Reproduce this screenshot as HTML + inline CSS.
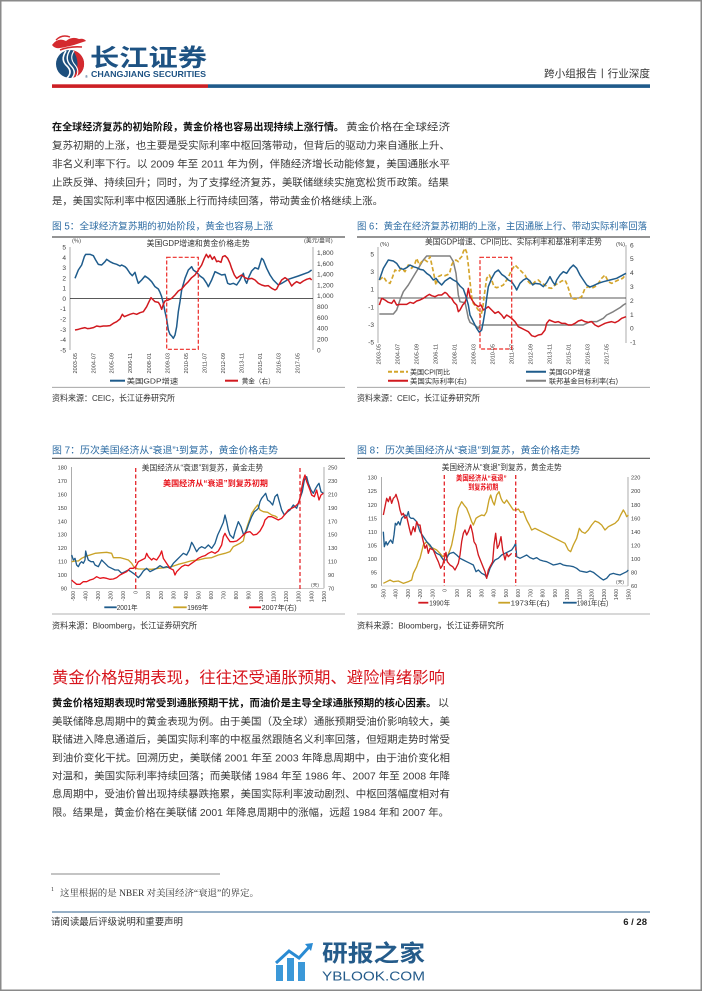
<!DOCTYPE html>
<html>
<head>
<meta charset="utf-8">
<style>
html,body{margin:0;padding:0;background:#fff;}
svg{display:block;}
text{font-family:"Liberation Sans","Noto Sans CJK SC",sans-serif;}
.ax{font-size:6.6px;fill:#404040;}
.axs{font-size:5.6px;fill:#404040;}
.cap{font-size:9.7px;fill:#2e6ca3;}
.body{font-size:10.4px;fill:#3a3a3a;}
.bold{font-size:10.4px;fill:#111;font-weight:bold;}
.ttl{font-size:7.8px;fill:#333;}
.lg{font-size:7px;fill:#333;}
.src{font-size:8.6px;fill:#333;}
</style>
</head>
<body>
<svg width="702" height="991" viewBox="0 0 702 991" xmlns="http://www.w3.org/2000/svg">
<rect x="0.75" y="0.75" width="700.5" height="989.5" fill="#fff" stroke="#8a8a8a" stroke-width="1.5"/>

<!-- LOGO -->
<g>
  <path d="M52,45 Q58,37 66,41 Q72,36 79,39 Q84,38 86,41 Q80,43 74,45 Q66,47 60,48 Q55,49 52,45 Z" fill="#d42a2f"/>
  <path d="M56,40 Q62,34 70,37" stroke="#d42a2f" stroke-width="1.4" fill="none"/>
  <path d="M60,50 Q70,46 82,47" stroke="#d42a2f" stroke-width="1.6" fill="none"/>
  <circle cx="70" cy="64" r="14" fill="#1d4f7d"/>
  <path d="M73,50.3 A14,14 0 0 1 73,77.7 Q82,64 73,50.3 Z" fill="#d42a2f"/>
  <path d="M66,51 Q60,60 67,66 Q73,72 67,78" stroke="#fff" stroke-width="1.6" fill="none"/>
  <path d="M70,50 Q64,59 71,66 Q77,72 72,78" stroke="#fff" stroke-width="1.4" fill="none"/>
  <path d="M74,51 Q69,58 75,65 Q80,71 76,77" stroke="#fff" stroke-width="1.1" fill="none"/>
  <text x="85" y="78" style="font-size:4px;fill:#1d4f7d;">®</text>
  <text x="90" y="66" textLength="117" lengthAdjust="spacingAndGlyphs" style="font-size:24px;font-weight:bold;fill:#1d5283;">长江证券</text>
  <text x="91" y="77" textLength="115" lengthAdjust="spacingAndGlyphs" style="font-size:8.4px;font-weight:bold;fill:#1d5283;">CHANGJIANG SECURITIES</text>
</g>
<text x="544" y="77" textLength="106" lengthAdjust="spacingAndGlyphs" style="font-size:10.5px;fill:#333;">跨小组报告丨行业深度</text>
<rect x="52" y="84.3" width="156" height="3.6" fill="#cc1f24"/>
<rect x="208" y="84.3" width="442" height="3.6" fill="#1f5a8a"/>

<!-- PARAGRAPH 1 -->
<text x="52" y="130.7" class="bold" textLength="292" lengthAdjust="spacingAndGlyphs">在全球经济复苏的初始阶段，黄金价格也容易出现持续上涨行情。</text>
<text x="346" y="130.7" class="body" textLength="104" lengthAdjust="spacingAndGlyphs">黄金价格在全球经济</text>
<text x="52" y="149.2" class="body" textLength="398" lengthAdjust="spacingAndGlyphs">复苏初期的上涨，也主要是受实际利率中枢回落带动，但背后的驱动力来自通胀上升、</text>
<text x="52" y="167.7" class="body" textLength="398" lengthAdjust="spacingAndGlyphs">非名义利率下行。以 2009 年至 2011 年为例，伴随经济增长动能修复，美国通胀水平</text>
<text x="52" y="186.2" class="body" textLength="397" lengthAdjust="spacingAndGlyphs">止跌反弹、持续回升；同时，为了支撑经济复苏，美联储继续实施宽松货币政策。结果</text>
<text x="52" y="204.7" class="body" textLength="331" lengthAdjust="spacingAndGlyphs">是，美国实际利率中枢因通胀上行而持续回落，带动黄金价格继续上涨。</text>

<!-- ================= CHART 5 ================= -->
<text x="52" y="229.6" class="cap" textLength="221" lengthAdjust="spacingAndGlyphs">图 5：全球经济复苏期的初始阶段，黄金也容易上涨</text>
<line x1="52" y1="237" x2="345" y2="237" stroke="#555" stroke-width="1.2"/>
<text x="146.7" y="246" class="ttl" textLength="103" lengthAdjust="spacingAndGlyphs">美国GDP增速和黄金价格走势</text>
<text x="72" y="242.5" style="font-size:5.8px;fill:#404040;">(%)</text>
<text x="304" y="242.5" style="font-size:5.8px;fill:#404040;">(美元/盎司)</text>
<line x1="70" y1="247" x2="70" y2="350" stroke="#888" stroke-width="0.7"/>
<line x1="313" y1="247" x2="313" y2="350" stroke="#888" stroke-width="0.7"/>
<line x1="70" y1="298.6" x2="313" y2="298.6" stroke="#222" stroke-width="0.8"/>
<g class="ax" text-anchor="end">
<text x="66" y="249.6">5</text><text x="66" y="259.9">4</text><text x="66" y="270.1">3</text><text x="66" y="280.4">2</text><text x="66" y="290.7">1</text><text x="66" y="301">0</text><text x="66" y="311.2">-1</text><text x="66" y="321.5">-2</text><text x="66" y="331.8">-3</text><text x="66" y="342">-4</text><text x="66" y="352.3">-5</text>
</g>
<g class="ax">
<text x="317" y="255">1,800</text><text x="317" y="265.8">1,600</text><text x="317" y="276.6">1,400</text><text x="317" y="287.4">1,200</text><text x="317" y="298.2">1,000</text><text x="317" y="309.1">800</text><text x="317" y="319.9">600</text><text x="317" y="330.7">400</text><text x="317" y="341.5">200</text><text x="317" y="352.3">0</text>
</g>
<g class="axs" text-anchor="end">
<text transform="translate(77,353) rotate(-90)">2003-05</text>
<text transform="translate(95.3,353) rotate(-90)">2004-07</text>
<text transform="translate(113.7,353) rotate(-90)">2005-09</text>
<text transform="translate(132,353) rotate(-90)">2006-11</text>
<text transform="translate(151,353) rotate(-90)">2008-01</text>
<text transform="translate(169.3,353) rotate(-90)">2009-03</text>
<text transform="translate(188,353) rotate(-90)">2010-05</text>
<text transform="translate(206.3,353) rotate(-90)">2011-07</text>
<text transform="translate(225,353) rotate(-90)">2012-09</text>
<text transform="translate(243.7,353) rotate(-90)">2013-11</text>
<text transform="translate(262,353) rotate(-90)">2015-01</text>
<text transform="translate(280.3,353) rotate(-90)">2016-03</text>
<text transform="translate(299.3,353) rotate(-90)">2017-05</text>
</g>
<g transform="translate(45,215) scale(0.33333)" fill="none" stroke-linejoin="round">
<polyline stroke="#1f5c8c" stroke-width="4.5" points="90,190 100,165 110,150 118,125 122,118 135,118 145,122 152,135 160,148 170,150 180,140 185,133 195,140 205,145 215,148 225,153 230,150 240,155 245,160 255,175 262,182 270,172 275,190 280,205 290,195 300,183 310,190 320,200 330,215 340,222 345,232 350,245 355,265 360,290 365,312 370,345 375,358 380,363 385,370 390,360 395,335 400,290 405,260 410,225 420,190 430,165 440,155 445,165 455,172 465,183 475,190 485,205 490,215 500,195 510,170 520,175 530,180 540,178 548,205 555,208 565,205 575,210 585,195 595,175 600,195 605,205 612,185 620,168 630,158 640,162 650,130 655,135 665,160 675,180 685,195 700,210 710,205 730,193 760,183 790,172 800,165"/>
<polyline stroke="#d1191f" stroke-width="4.5" points="90,345 100,343 110,340 120,338 128,341 135,340 145,338 155,333 165,335 175,333 185,333 195,332 205,325 215,320 225,312 232,298 238,305 245,302 255,298 265,295 275,298 285,293 295,290 305,275 312,260 318,248 325,255 330,260 340,262 345,270 350,283 355,268 360,258 370,255 380,250 390,240 400,228 410,222 420,210 430,200 440,188 450,180 460,165 470,150 478,130 484,118 490,128 495,120 502,133 508,125 515,140 520,138 528,142 533,125 540,122 548,130 555,145 560,160 568,180 575,190 582,185 590,180 600,188 610,192 620,190 630,195 640,205 650,210 660,213 670,212 680,220 690,225 695,222 700,212 710,195 720,188 730,195 740,213 748,205 755,200 765,205 775,198 785,193 795,190 800,195"/>
</g>
<rect x="166.7" y="257.3" width="31.6" height="92" fill="none" stroke="#ec2a26" stroke-width="1.2" stroke-dasharray="4 2"/>
<line x1="110" y1="380.7" x2="125" y2="380.7" stroke="#1f5c8c" stroke-width="2"/>
<text x="126.7" y="383.4" class="lg" textLength="51.6" lengthAdjust="spacingAndGlyphs">美国GDP增速</text>
<line x1="225" y1="380.7" x2="238" y2="380.7" stroke="#d1191f" stroke-width="2"/>
<text x="241.7" y="383.4" class="lg" textLength="33" lengthAdjust="spacingAndGlyphs">黄金（右）</text>
<line x1="52" y1="387.3" x2="345" y2="387.3" stroke="#999" stroke-width="0.8"/>
<text x="52" y="401.2" class="src" textLength="123" lengthAdjust="spacingAndGlyphs">资料来源：CEIC，长江证券研究所</text>

<!-- ================= CHART 6 ================= -->
<text x="357" y="229.6" class="cap" textLength="290" lengthAdjust="spacingAndGlyphs">图 6：黄金在经济复苏初期的上涨，主因通胀上行、带动实际利率回落</text>
<line x1="357" y1="237" x2="650" y2="237" stroke="#555" stroke-width="1.2"/>
<text x="425" y="244.5" class="ttl" textLength="177" lengthAdjust="spacingAndGlyphs">美国GDP增速、CPI同比、实际利率和基准利率走势</text>
<text x="380" y="246" style="font-size:5.8px;fill:#404040;">(%)</text>
<text x="616" y="246" style="font-size:5.8px;fill:#404040;">(%)</text>
<line x1="378" y1="247" x2="378" y2="343" stroke="#888" stroke-width="0.7"/>
<line x1="626" y1="245" x2="626" y2="343" stroke="#888" stroke-width="0.7"/>
<line x1="378" y1="298" x2="626" y2="298" stroke="#222" stroke-width="0.8"/>
<g class="ax" text-anchor="end">
<text x="374" y="256.3">5</text><text x="374" y="274">3</text><text x="374" y="291.6">1</text><text x="374" y="309.3">-1</text><text x="374" y="326.9">-3</text><text x="374" y="344.6">-5</text>
</g>
<g class="ax">
<text x="630" y="247.3">6</text><text x="630" y="261.2">5</text><text x="630" y="275.1">4</text><text x="630" y="289">3</text><text x="630" y="302.9">2</text><text x="630" y="316.8">1</text><text x="630" y="330.7">0</text><text x="630" y="344.6">-1</text>
</g>
<g class="axs" text-anchor="end">
<text transform="translate(380.5,344) rotate(-90)">2003-05</text>
<text transform="translate(399.5,344) rotate(-90)">2004-07</text>
<text transform="translate(418.5,344) rotate(-90)">2005-09</text>
<text transform="translate(437.5,344) rotate(-90)">2006-11</text>
<text transform="translate(456.5,344) rotate(-90)">2008-01</text>
<text transform="translate(475.5,344) rotate(-90)">2009-03</text>
<text transform="translate(494.5,344) rotate(-90)">2010-05</text>
<text transform="translate(513.5,344) rotate(-90)">2011-07</text>
<text transform="translate(532.5,344) rotate(-90)">2012-09</text>
<text transform="translate(551.5,344) rotate(-90)">2013-11</text>
<text transform="translate(570.5,344) rotate(-90)">2015-01</text>
<text transform="translate(589.5,344) rotate(-90)">2016-03</text>
<text transform="translate(608.5,344) rotate(-90)">2017-05</text>
</g>
<g transform="translate(350,215) scale(0.33333)" fill="none" stroke-linejoin="round">
<polyline stroke="#808080" stroke-width="4.5" points="88,297 130,297 140,285 150,255 160,230 175,210 190,185 205,160 220,135 230,123 300,123 310,140 318,175 325,240 330,260 338,262 345,262 350,285 355,310 360,322 370,328 380,335 385,340 390,330 400,330 500,330 700,330 720,320 740,320 760,310 770,300 790,290 810,278 820,270 828,265"/>
<polyline stroke="#d4a52c" stroke-width="5" stroke-dasharray="13 7" points="88,195 100,185 110,200 120,205 128,185 135,165 145,170 155,160 165,170 175,150 185,160 195,145 200,130 208,150 215,140 225,135 232,140 240,125 250,170 258,210 265,185 275,180 285,182 295,178 300,170 305,150 310,140 318,135 325,140 330,130 335,125 340,110 345,100 350,112 355,150 360,200 365,245 370,265 378,275 385,285 392,305 398,280 403,240 410,190 418,180 425,195 432,215 440,218 450,215 460,210 470,195 478,180 485,165 495,150 505,160 515,170 525,180 535,200 545,210 555,200 565,195 575,205 585,210 595,218 605,220 615,210 625,205 635,198 645,195 652,210 660,235 665,250 675,252 685,250 695,245 705,220 715,215 725,220 735,215 745,205 755,190 765,180 775,200 785,205 795,200 805,195 818,190 828,178"/>
<polyline stroke="#d1191f" stroke-width="4.5" points="88,270 95,250 105,255 115,262 125,265 132,255 140,270 150,268 160,268 170,268 180,262 190,265 200,258 210,255 220,250 230,243 238,238 245,242 255,245 265,240 275,240 285,232 290,235 298,245 305,250 312,262 320,270 325,290 330,285 338,270 345,262 350,248 355,220 360,245 368,258 375,268 385,275 393,270 400,285 408,280 415,275 425,285 435,295 445,290 455,300 462,310 470,300 478,305 485,310 495,320 505,335 515,340 525,345 535,350 545,362 555,365 565,360 575,358 585,345 590,325 598,315 605,318 615,322 625,320 635,325 645,325 655,330 665,330 675,325 685,318 695,315 705,320 715,322 725,320 735,330 745,335 755,330 765,325 775,322 785,320 795,323 805,318 815,310 828,305"/>
<polyline stroke="#1f5c8c" stroke-width="4.5" points="88,195 100,160 115,135 130,138 140,145 150,160 160,163 170,158 180,150 190,155 200,158 210,163 220,165 230,175 240,182 250,195 258,190 265,200 275,210 285,198 300,188 310,195 320,200 330,213 340,222 348,245 355,270 360,300 370,320 380,340 388,352 395,345 400,320 405,290 410,250 415,215 425,190 435,172 445,165 455,178 465,185 475,195 485,200 495,215 500,225 510,205 520,195 530,190 540,198 548,210 555,205 570,207 580,215 590,203 600,185 608,200 615,210 620,195 630,180 640,170 650,175 660,160 670,150 680,160 690,180 700,195 710,210 720,216 730,212 745,205 760,200 780,195 800,190 828,175"/>
</g>
<rect x="480" y="257.3" width="31.7" height="91.7" fill="none" stroke="#ec2a26" stroke-width="1.2" stroke-dasharray="4 2"/>
<line x1="388" y1="371.7" x2="408" y2="371.7" stroke="#d4a52c" stroke-width="2" stroke-dasharray="4 2"/>
<text x="410" y="374.3" class="lg" textLength="40" lengthAdjust="spacingAndGlyphs">美国CPI同比</text>
<line x1="526" y1="371.7" x2="546" y2="371.7" stroke="#1f5c8c" stroke-width="2"/>
<text x="549" y="374.3" class="lg" textLength="41.5" lengthAdjust="spacingAndGlyphs">美国GDP增速</text>
<line x1="388" y1="380.7" x2="408" y2="380.7" stroke="#d1191f" stroke-width="2"/>
<text x="410" y="383.3" class="lg" textLength="56.7" lengthAdjust="spacingAndGlyphs">美国实际利率(右)</text>
<line x1="526" y1="380.7" x2="546" y2="380.7" stroke="#808080" stroke-width="2"/>
<text x="549" y="383.3" class="lg" textLength="69" lengthAdjust="spacingAndGlyphs">联邦基金目标利率(右)</text>
<line x1="357" y1="387.3" x2="650" y2="387.3" stroke="#999" stroke-width="0.8"/>
<text x="357" y="401.2" class="src" textLength="123" lengthAdjust="spacingAndGlyphs">资料来源：CEIC，长江证券研究所</text>

<!-- ================= CHART 7 ================= -->
<text x="52" y="453.5" class="cap" textLength="226" lengthAdjust="spacingAndGlyphs">图 7：历次美国经济从“衰退”¹到复苏，黄金价格走势</text>
<line x1="52" y1="458.3" x2="345" y2="458.3" stroke="#555" stroke-width="1.2"/>
<text x="141.7" y="470.5" class="ttl" textLength="121.6" lengthAdjust="spacingAndGlyphs">美国经济从“衰退”到复苏，黄金走势</text>
<line x1="71.5" y1="467" x2="71.5" y2="588.3" stroke="#888" stroke-width="0.7"/>
<line x1="324" y1="467" x2="324" y2="588.3" stroke="#888" stroke-width="0.7"/>
<line x1="71.5" y1="588.3" x2="324" y2="588.3" stroke="#aaa" stroke-width="0.6"/>
<g class="axs" text-anchor="end">
<text x="67" y="469.5">180</text><text x="67" y="482.9">170</text><text x="67" y="496.4">160</text><text x="67" y="509.8">150</text><text x="67" y="523.3">140</text><text x="67" y="536.7">130</text><text x="67" y="550.1">120</text><text x="67" y="563.6">110</text><text x="67" y="577">100</text><text x="67" y="590.5">90</text>
</g>
<g class="axs">
<text x="328" y="469.5">250</text><text x="328" y="482.9">230</text><text x="328" y="496.4">210</text><text x="328" y="509.8">190</text><text x="328" y="523.3">170</text><text x="328" y="536.7">150</text><text x="328" y="550.1">130</text><text x="328" y="563.6">110</text><text x="328" y="577">90</text><text x="328" y="590.5">70</text>
</g>
<g style="font-size:5px;fill:#404040;" text-anchor="end">
<text transform="translate(75,591) rotate(-90)">-500</text>
<text transform="translate(87.5,591) rotate(-90)">-400</text>
<text transform="translate(100.1,591) rotate(-90)">-300</text>
<text transform="translate(112.6,591) rotate(-90)">-200</text>
<text transform="translate(125.2,591) rotate(-90)">-100</text>
<text transform="translate(137.7,591) rotate(-90)">0</text>
<text transform="translate(150.2,591) rotate(-90)">100</text>
<text transform="translate(162.8,591) rotate(-90)">200</text>
<text transform="translate(175.3,591) rotate(-90)">300</text>
<text transform="translate(187.9,591) rotate(-90)">400</text>
<text transform="translate(200.4,591) rotate(-90)">500</text>
<text transform="translate(212.9,591) rotate(-90)">600</text>
<text transform="translate(225.5,591) rotate(-90)">700</text>
<text transform="translate(238,591) rotate(-90)">800</text>
<text transform="translate(250.6,591) rotate(-90)">900</text>
<text transform="translate(263.1,591) rotate(-90)">1000</text>
<text transform="translate(275.6,591) rotate(-90)">1100</text>
<text transform="translate(288.2,591) rotate(-90)">1200</text>
<text transform="translate(300.7,591) rotate(-90)">1300</text>
<text transform="translate(313.3,591) rotate(-90)">1400</text>
<text transform="translate(325.8,591) rotate(-90)">1500</text>
</g>
<g transform="translate(45,435) scale(0.33333)" fill="none" stroke-linejoin="round">
<polyline stroke="#c9a227" stroke-width="4" points="80,380 90,378 100,378 110,370 120,365 135,360 150,355 170,353 185,352 200,355 205,368 215,368 225,368 240,372 250,375 260,385 268,398 280,402 300,402 320,403 340,400 360,398 380,395 400,388 420,383 440,377 460,375 480,370 500,368 520,360 540,355 555,350 565,335 575,330 585,325 595,318 600,295 608,270 615,250 620,235 630,220 638,210 645,225 655,230 668,232 680,240 690,243 698,248"/>
<polyline stroke="#1f5c8c" stroke-width="4" points="80,360 85,375 90,370 95,390 100,395 105,385 110,380 115,385 120,375 122,348 125,360 130,375 138,380 145,380 150,390 160,395 170,375 175,380 180,385 190,395 200,400 210,405 220,405 230,415 240,410 250,405 258,410 265,415 272,420 280,428 287,420 295,408 305,400 315,410 325,405 335,400 345,392 355,398 365,395 375,400 385,385 395,375 405,365 415,355 425,360 433,345 440,322 445,330 455,350 462,340 470,335 480,340 490,330 500,340 510,325 518,300 525,285 535,262 540,240 545,260 550,285 555,300 565,310 570,290 580,260 588,275 596,300 605,285 612,265 620,245 628,230 635,225 640,220 645,200 650,190 658,180 662,175 668,195 675,200 683,210 690,185 697,178 703,200 710,225 718,240 728,230 735,225 745,210 755,220 765,190 772,170 778,135 785,125 790,145 798,165 805,175 812,160 818,150 822,145 828,170 835,175"/>
<polyline stroke="#e3141c" stroke-width="4" points="80,435 85,440 95,448 105,448 115,440 125,440 135,435 145,432 155,425 165,430 175,428 185,430 195,433 205,432 215,428 225,420 235,415 245,410 255,400 265,400 272,395 280,380 290,375 300,370 305,355 310,365 320,375 325,370 335,375 345,360 350,348 355,370 365,385 375,400 385,405 390,420 395,410 400,405 410,395 420,390 430,392 440,385 450,378 460,370 470,365 480,362 490,355 500,350 510,355 520,348 530,330 535,305 540,295 545,305 555,320 565,320 575,318 585,310 595,300 605,292 615,290 625,300 635,298 645,288 655,270 660,255 670,245 680,245 690,250 700,255 710,250 720,238 730,225 740,220 750,215 760,205 765,190 770,160 775,135 780,120 785,140 795,165 800,180 808,185 815,165 822,195 828,180 835,175"/>
</g>
<line x1="135.7" y1="468" x2="135.7" y2="590" stroke="#e4262b" stroke-width="1.3" stroke-dasharray="4 2.5"/>
<line x1="300" y1="468" x2="300" y2="590" stroke="#e4262b" stroke-width="1.3" stroke-dasharray="4 2.5"/>
<text x="163" y="486" textLength="105" lengthAdjust="spacingAndGlyphs" style="font-size:8px;font-weight:bold;fill:#e8141c;">美国经济从“衰退”到复苏初期</text>
<text x="311" y="586.5" style="font-size:4.8px;fill:#404040;">(天)</text>
<line x1="104.3" y1="607.3" x2="116.7" y2="607.3" stroke="#1f5c8c" stroke-width="1.8"/>
<text x="116.7" y="610" class="lg" textLength="21" lengthAdjust="spacingAndGlyphs">2001年</text>
<line x1="173.3" y1="607.3" x2="186.7" y2="607.3" stroke="#c9a227" stroke-width="1.8"/>
<text x="187.3" y="610" class="lg" textLength="21" lengthAdjust="spacingAndGlyphs">1969年</text>
<line x1="249" y1="607.3" x2="261" y2="607.3" stroke="#e3141c" stroke-width="1.8"/>
<text x="261.7" y="610" class="lg" textLength="35" lengthAdjust="spacingAndGlyphs">2007年(右)</text>
<line x1="52" y1="614" x2="345" y2="614" stroke="#999" stroke-width="0.8"/>
<text x="52" y="628.5" class="src" textLength="145" lengthAdjust="spacingAndGlyphs">资料来源：Bloomberg，长江证券研究所</text>

<!-- ================= CHART 8 ================= -->
<text x="357" y="453.5" class="cap" textLength="223" lengthAdjust="spacingAndGlyphs">图 8：历次美国经济从“衰退”到复苏，黄金价格走势</text>
<line x1="357" y1="458.3" x2="650" y2="458.3" stroke="#555" stroke-width="1.2"/>
<text x="441.7" y="469.8" class="ttl" textLength="120" lengthAdjust="spacingAndGlyphs">美国经济从“衰退”到复苏，黄金走势</text>
<line x1="381.5" y1="477" x2="381.5" y2="586" stroke="#888" stroke-width="0.7"/>
<line x1="628" y1="477" x2="628" y2="586" stroke="#888" stroke-width="0.7"/>
<line x1="381.5" y1="586" x2="628" y2="586" stroke="#aaa" stroke-width="0.6"/>
<g class="axs" text-anchor="end">
<text x="377" y="479.7">130</text><text x="377" y="493.2">125</text><text x="377" y="506.8">120</text><text x="377" y="520.3">115</text><text x="377" y="533.9">110</text><text x="377" y="547.4">105</text><text x="377" y="560.9">100</text><text x="377" y="574.5">95</text><text x="377" y="588">90</text>
</g>
<g class="axs">
<text x="631" y="479.7">220</text><text x="631" y="493.2">200</text><text x="631" y="506.8">180</text><text x="631" y="520.3">160</text><text x="631" y="533.9">140</text><text x="631" y="547.4">120</text><text x="631" y="560.9">100</text><text x="631" y="574.5">80</text><text x="631" y="588">60</text>
</g>
<g style="font-size:5px;fill:#404040;" text-anchor="end">
<text transform="translate(385.3,589) rotate(-90)">-500</text>
<text transform="translate(397.6,589) rotate(-90)">-400</text>
<text transform="translate(409.8,589) rotate(-90)">-300</text>
<text transform="translate(422.1,589) rotate(-90)">-200</text>
<text transform="translate(434.3,589) rotate(-90)">-100</text>
<text transform="translate(446.6,589) rotate(-90)">0</text>
<text transform="translate(458.8,589) rotate(-90)">100</text>
<text transform="translate(471.1,589) rotate(-90)">200</text>
<text transform="translate(483.3,589) rotate(-90)">300</text>
<text transform="translate(495.6,589) rotate(-90)">400</text>
<text transform="translate(507.8,589) rotate(-90)">500</text>
<text transform="translate(520.1,589) rotate(-90)">600</text>
<text transform="translate(532.3,589) rotate(-90)">700</text>
<text transform="translate(544.6,589) rotate(-90)">800</text>
<text transform="translate(556.8,589) rotate(-90)">900</text>
<text transform="translate(569.1,589) rotate(-90)">1000</text>
<text transform="translate(581.3,589) rotate(-90)">1100</text>
<text transform="translate(593.6,589) rotate(-90)">1200</text>
<text transform="translate(605.8,589) rotate(-90)">1300</text>
<text transform="translate(618.1,589) rotate(-90)">1400</text>
<text transform="translate(630.3,589) rotate(-90)">1500</text>
</g>
<g transform="translate(350,435) scale(0.33333)" fill="none" stroke-linejoin="round">
<polyline stroke="#c9a227" stroke-width="4" points="100,445 110,440 120,435 130,440 145,438 160,445 175,440 185,435 190,415 200,395 205,380 210,370 215,350 220,330 230,320 240,335 250,340 260,345 270,355 278,365 285,360 292,365 300,345 305,330 310,305 315,280 320,245 325,220 330,210 335,200 342,210 350,220 358,240 365,260 370,270 378,250 385,245 395,240 403,242 410,230 417,195 422,180 428,200 433,210 440,180 447,170 453,190 458,200 463,205 470,195 480,210 490,225 498,225 505,222 512,232 520,230 530,255 538,270 545,285 555,280 565,285 575,290 585,295 595,300 605,305 615,310 625,315 635,320 645,325 655,345 662,350 670,330 680,310 688,280 695,290 705,295 715,285 725,270 735,258 745,262 755,270 765,285 775,275 785,270 795,265 805,255 812,240 820,225 826,235 830,245 835,240"/>
<polyline stroke="#1f5c8c" stroke-width="4" points="100,290 103,335 108,320 112,330 118,320 122,315 128,325 132,300 136,265 140,270 145,260 150,270 155,250 160,245 165,240 170,245 175,230 178,245 183,250 190,250 195,255 200,260 210,290 220,305 230,320 240,330 250,345 260,355 270,360 280,375 288,375 295,360 300,355 310,352 320,360 330,370 340,375 350,380 360,385 370,390 378,410 385,405 395,415 405,420 410,428 415,415 420,400 428,385 435,375 445,370 455,360 465,355 475,350 485,345 492,335 497,325 500,365 510,370 520,365 530,360 540,368 550,372 560,368 570,375 580,378 590,380 600,385 610,390 620,388 630,385 640,390 650,392 660,393 670,395 680,400 690,408 700,410 710,412 720,408 730,412 740,420 750,428 760,435 770,430 780,418 790,415 800,418 810,420 820,415 830,410 835,405"/>
<polyline stroke="#d1191f" stroke-width="4" points="100,240 105,215 110,190 115,200 120,185 125,205 130,190 135,185 138,178 145,200 150,225 155,240 160,235 165,250 170,245 178,280 183,300 190,275 195,290 200,260 205,270 210,270 215,300 220,320 225,340 230,330 235,355 240,340 250,345 258,365 265,380 272,400 278,390 283,370 288,352 292,380 300,390 308,395 315,405 320,395 325,385 330,360 335,320 340,295 345,285 350,300 355,290 362,270 368,295 372,320 378,330 385,360 395,385 405,410 410,430 415,405 420,395 428,380 432,330 437,295 442,340 447,330 453,305 458,345 465,375 470,355 475,365 480,360 485,355"/>
</g>
<line x1="444.3" y1="475" x2="444.3" y2="586" stroke="#e4262b" stroke-width="1.3" stroke-dasharray="4 2.5"/>
<line x1="515.7" y1="475" x2="515.7" y2="586" stroke="#e4262b" stroke-width="1.3" stroke-dasharray="4 2.5"/>
<text x="456" y="480.5" textLength="50.7" lengthAdjust="spacingAndGlyphs" style="font-size:7.2px;font-weight:bold;fill:#e8141c;">美国经济从“衰退”</text>
<text x="468.3" y="489.5" textLength="30" lengthAdjust="spacingAndGlyphs" style="font-size:7.2px;font-weight:bold;fill:#e8141c;">到复苏初期</text>
<text x="616" y="583.5" style="font-size:4.8px;fill:#404040;">(天)</text>
<line x1="418.3" y1="602.7" x2="428.3" y2="602.7" stroke="#d1191f" stroke-width="1.8"/>
<text x="429.3" y="605.4" class="lg" textLength="20.7" lengthAdjust="spacingAndGlyphs">1990年</text>
<line x1="498.3" y1="602.7" x2="510" y2="602.7" stroke="#c9a227" stroke-width="1.8"/>
<text x="510.7" y="605.4" class="lg" textLength="39" lengthAdjust="spacingAndGlyphs">1973年(右)</text>
<line x1="563" y1="602.7" x2="576.7" y2="602.7" stroke="#1f5c8c" stroke-width="1.8"/>
<text x="576.7" y="605.4" class="lg" textLength="31.6" lengthAdjust="spacingAndGlyphs">1981年(右)</text>
<line x1="357" y1="614" x2="650" y2="614" stroke="#999" stroke-width="0.8"/>
<text x="357" y="628.5" class="src" textLength="147" lengthAdjust="spacingAndGlyphs">资料来源：Bloomberg，长江证券研究所</text>

<!-- SECTION 2 -->
<text x="52" y="682.8" textLength="393" lengthAdjust="spacingAndGlyphs" style="font-size:16px;fill:#d7141c;">黄金价格短期表现，往往还受通胀预期、避险情绪影响</text>
<text x="52" y="706.7" class="bold" textLength="384.5" lengthAdjust="spacingAndGlyphs">黄金价格短期表现时常受到通胀预期干扰，而油价是主导全球通胀预期的核心因素。</text>
<text x="438" y="706.7" class="body" textLength="11" lengthAdjust="spacingAndGlyphs">以</text>
<text x="52" y="724.9" class="body" textLength="398" lengthAdjust="spacingAndGlyphs">美联储降息周期中的黄金表现为例。由于美国（及全球）通胀预期受油价影响较大，美</text>
<text x="52" y="743.1" class="body" textLength="398" lengthAdjust="spacingAndGlyphs">联储进入降息通道后，美国实际利率的中枢虽然跟随名义利率回落，但短期走势时常受</text>
<text x="52" y="761.3" class="body" textLength="398" lengthAdjust="spacingAndGlyphs">到油价变化干扰。回溯历史，美联储 2001 年至 2003 年降息周期中，由于油价变化相</text>
<text x="52" y="779.5" class="body" textLength="398" lengthAdjust="spacingAndGlyphs">对温和，美国实际利率持续回落；而美联储 1984 年至 1986 年、2007 年至 2008 年降</text>
<text x="52" y="797.7" class="body" textLength="398" lengthAdjust="spacingAndGlyphs">息周期中，受油价曾出现持续暴跌拖累，美国实际利率波动剧烈、中枢回落幅度相对有</text>
<text x="52" y="815.9" class="body" textLength="397" lengthAdjust="spacingAndGlyphs">限。结果是，黄金价格在美联储 2001 年降息周期中的涨幅，远超 1984 年和 2007 年。</text>

<!-- FOOTNOTE & FOOTER -->
<line x1="51" y1="874" x2="220" y2="874" stroke="#888" stroke-width="1"/>
<text x="51" y="891" style="font-size:6px;fill:#333;font-family:'Liberation Serif','Noto Serif CJK SC',serif;">1</text>
<text x="60" y="896" textLength="199" lengthAdjust="spacingAndGlyphs" style="font-size:9px;fill:#333;font-family:'Liberation Serif','Noto Serif CJK SC',serif;">这里根据的是 NBER 对美国经济“衰退”的界定。</text>
<line x1="52" y1="912" x2="650" y2="912" stroke="#2b5f8e" stroke-width="1"/>
<text x="51" y="925.2" textLength="132" lengthAdjust="spacingAndGlyphs" style="font-size:9.4px;fill:#333;">请阅读最后评级说明和重要声明</text>
<text x="647" y="925.2" text-anchor="end" style="font-size:9.5px;font-weight:bold;fill:#222;">6 / 28</text>

<!-- WATERMARK -->
<g>
  <rect x="276" y="965" width="7" height="16" fill="#3b98d8"/>
  <rect x="287" y="958" width="7" height="23" fill="#3b98d8"/>
  <rect x="298" y="962" width="7" height="19" fill="#3b98d8"/>
  <path d="M276,963 L289,951 L299,958 L310,946" stroke="#2a8bd3" stroke-width="3" fill="none"/>
  <path d="M305,944 L313,943 L311,951 Z" fill="#2a8bd3"/>
  <text x="322" y="961" textLength="103" lengthAdjust="spacingAndGlyphs" style="font-size:23px;font-weight:bold;fill:#245b8a;">研报之家</text>
  <text x="322" y="980.5" textLength="103" lengthAdjust="spacingAndGlyphs" style="font-size:13px;fill:#245b8a;">YBLOOK.COM</text>
</g>
</svg>
</body>
</html>
